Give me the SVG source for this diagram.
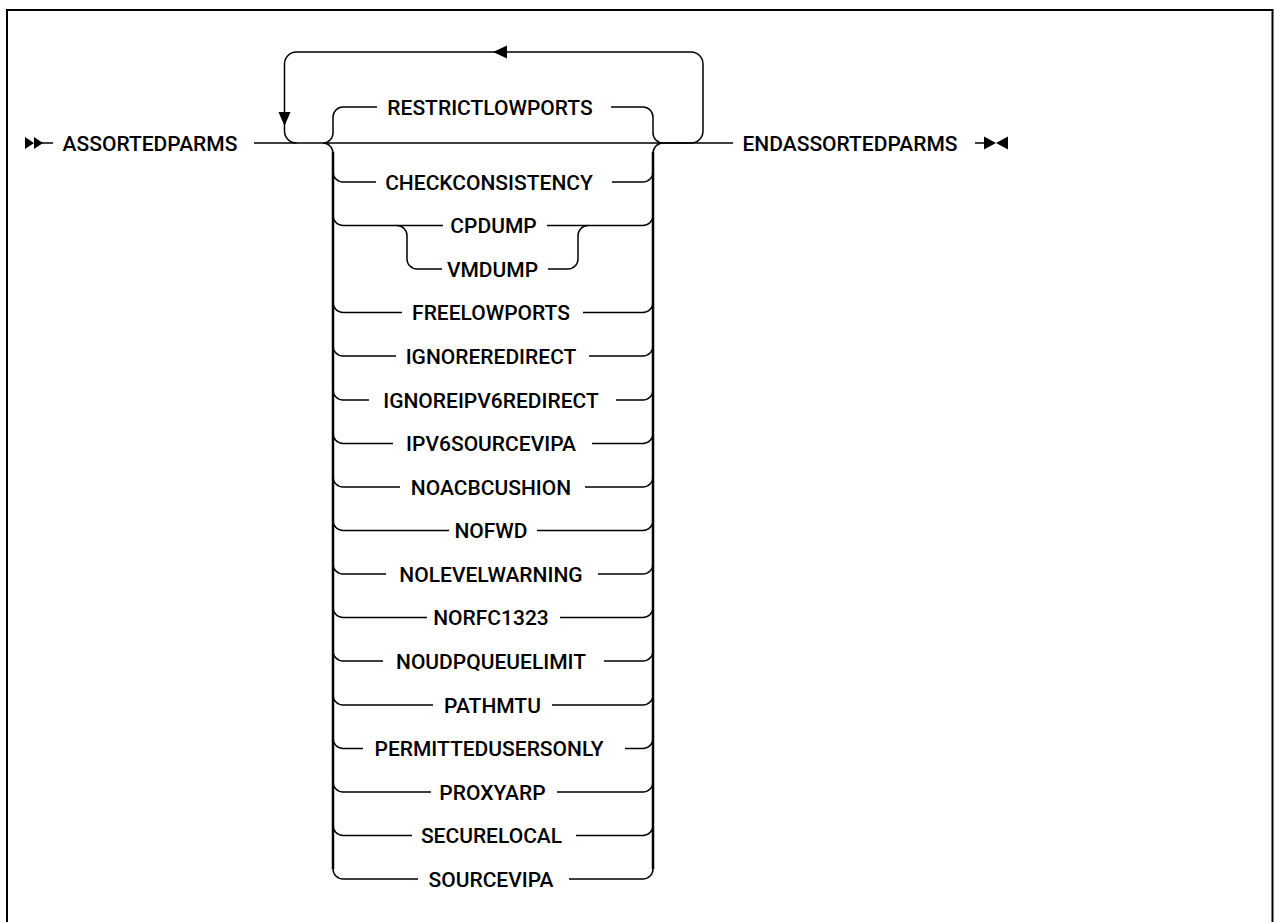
<svg xmlns="http://www.w3.org/2000/svg" width="1274" height="922" viewBox="0 0 1274 922">
<style>
.l{fill:none;stroke:#000;stroke-width:1.5}
.v{fill:none;stroke:#000;stroke-width:2.5}
.m{fill:#000;stroke:none}
text{font-family:Roboto,"Liberation Sans",sans-serif;font-size:21px;font-weight:500;text-anchor:middle;fill:#000}
</style>
<rect width="1274" height="922" fill="#fff"/>
<path d="M7,923 V10 H1272.5 V923" fill="none" stroke="#000" stroke-width="2"/>
<g id="connectors">
  <!-- start marker -->
  <path class="m" d="M25,137 L34,143 L25,149 Z M34,137 L43,143 L34,149 Z"/>
  <path class="l" d="M42,143 H53"/>
  <!-- main line -->
  <path class="l" d="M254,143 H733"/>
  <!-- loop -->
  <path class="l" d="M663,143 H691 A12,12 0 0 0 703,131 V64 A12,12 0 0 0 691,52 H296.5 A12,12 0 0 0 284.5,64 V131 A12,12 0 0 0 296.5,143"/>
  <path class="m" d="M493,52 L507,45.5 L507,58.5 Z"/>
  <path class="m" d="M284.5,126 L278.5,112 L290.5,112 Z"/>
  <!-- end marker -->
  <path class="l" d="M975,143 H987"/>
  <path class="m" d="M984,136.5 L996,143 L984,149.5 Z M1008,136.5 L996,143 L1008,149.5 Z"/>
  <!-- bracket joins -->
  <path class="l" d="M323,143 A10,10 0 0 0 333,133 V117 A10,10 0 0 1 343,107 H377"/>
  <path class="l" d="M611,107 H643 A10,10 0 0 1 653,117 V133 A10,10 0 0 0 663,143"/>
  <path class="l" d="M323,143 A10,10 0 0 1 333,153"/>
  <path class="l" d="M653,153 A10,10 0 0 1 663,143"/>
  <path class="v" d="M333,152 V869"/>
  <path class="v" d="M653,152 V869"/>
  <!-- rows -->
  <path class="l" d="M333,172 A10,10 0 0 0 343,182 H376 M612,182 H643 A10,10 0 0 0 653,172"/>
  <path class="l" d="M333,215.5 A10,10 0 0 0 343,225.5 H443 M547,225.5 H643 A10,10 0 0 0 653,215.5"/>
  <path class="l" d="M397,225.5 A10,10 0 0 1 407,235.5 V259 A10,10 0 0 0 417,269 H442 M548,269 H568 A10,10 0 0 0 578,259 V235.5 A10,10 0 0 1 588,225.5"/>
  <path class="l" d="M333,302.5 A10,10 0 0 0 343,312.5 H402 M583,312.5 H643 A10,10 0 0 0 653,302.5"/>
  <path class="l" d="M333,346 A10,10 0 0 0 343,356 H396 M589,356 H643 A10,10 0 0 0 653,346"/>
  <path class="l" d="M333,390 A10,10 0 0 0 343,400 H369 M616,400 H643 A10,10 0 0 0 653,390"/>
  <path class="l" d="M333,433.5 A10,10 0 0 0 343,443.5 H393 M592,443.5 H643 A10,10 0 0 0 653,433.5"/>
  <path class="l" d="M333,477 A10,10 0 0 0 343,487 H400 M585,487 H643 A10,10 0 0 0 653,477"/>
  <path class="l" d="M333,520.5 A10,10 0 0 0 343,530.5 H449 M537,530.5 H643 A10,10 0 0 0 653,520.5"/>
  <path class="l" d="M333,564 A10,10 0 0 0 343,574 H386 M598,574 H643 A10,10 0 0 0 653,564"/>
  <path class="l" d="M333,607.5 A10,10 0 0 0 343,617.5 H427 M560,617.5 H643 A10,10 0 0 0 653,607.5"/>
  <path class="l" d="M333,651 A10,10 0 0 0 343,661 H383 M604,661 H643 A10,10 0 0 0 653,651"/>
  <path class="l" d="M333,695 A10,10 0 0 0 343,705 H433 M552,705 H643 A10,10 0 0 0 653,695"/>
  <path class="l" d="M333,738.5 A10,10 0 0 0 343,748.5 H363 M625,748.5 H643 A10,10 0 0 0 653,738.5"/>
  <path class="l" d="M333,782 A10,10 0 0 0 343,792 H431 M557,792 H643 A10,10 0 0 0 653,782"/>
  <path class="l" d="M333,825.5 A10,10 0 0 0 343,835.5 H412 M576,835.5 H643 A10,10 0 0 0 653,825.5"/>
  <path class="l" d="M333,869 A10,10 0 0 0 343,879 H418 M569,879 H643 A10,10 0 0 0 653,869"/>
</g>
<g id="n-assortedparms"><text x="150" y="150.5">ASSORTEDPARMS</text></g>
<g id="n-endassortedparms"><text x="850" y="150.5">ENDASSORTEDPARMS</text></g>
<g id="n-restrictlowports"><text x="490" y="114.5">RESTRICTLOWPORTS</text></g>
<g id="n-checkconsistency"><text x="489" y="189.5">CHECKCONSISTENCY</text></g>
<g id="n-cpdump"><text x="493.5" y="233">CPDUMP</text></g>
<g id="n-vmdump"><text x="492.5" y="276.5">VMDUMP</text></g>
<g id="n-freelowports"><text x="491" y="320">FREELOWPORTS</text></g>
<g id="n-ignoreredirect"><text x="491" y="363.5">IGNOREREDIRECT</text></g>
<g id="n-ignoreipv6redirect"><text x="491" y="407.5">IGNOREIPV6REDIRECT</text></g>
<g id="n-ipv6sourcevipa"><text x="491" y="451">IPV6SOURCEVIPA</text></g>
<g id="n-noacbcushion"><text x="491" y="494.5">NOACBCUSHION</text></g>
<g id="n-nofwd"><text x="491" y="538">NOFWD</text></g>
<g id="n-nolevelwarning"><text x="491" y="581.5">NOLEVELWARNING</text></g>
<g id="n-norfc1323"><text x="491" y="625">NORFC1323</text></g>
<g id="n-noudpqueuelimit"><text x="491" y="668.5">NOUDPQUEUELIMIT</text></g>
<g id="n-pathmtu"><text x="492.5" y="712.5">PATHMTU</text></g>
<g id="n-permittedusersonly"><text x="489" y="756">PERMITTEDUSERSONLY</text></g>
<g id="n-proxyarp"><text x="492.5" y="799.5">PROXYARP</text></g>
<g id="n-securelocal"><text x="491.5" y="843">SECURELOCAL</text></g>
<g id="n-sourcevipa"><text x="491" y="886.5">SOURCEVIPA</text></g>
</svg>
